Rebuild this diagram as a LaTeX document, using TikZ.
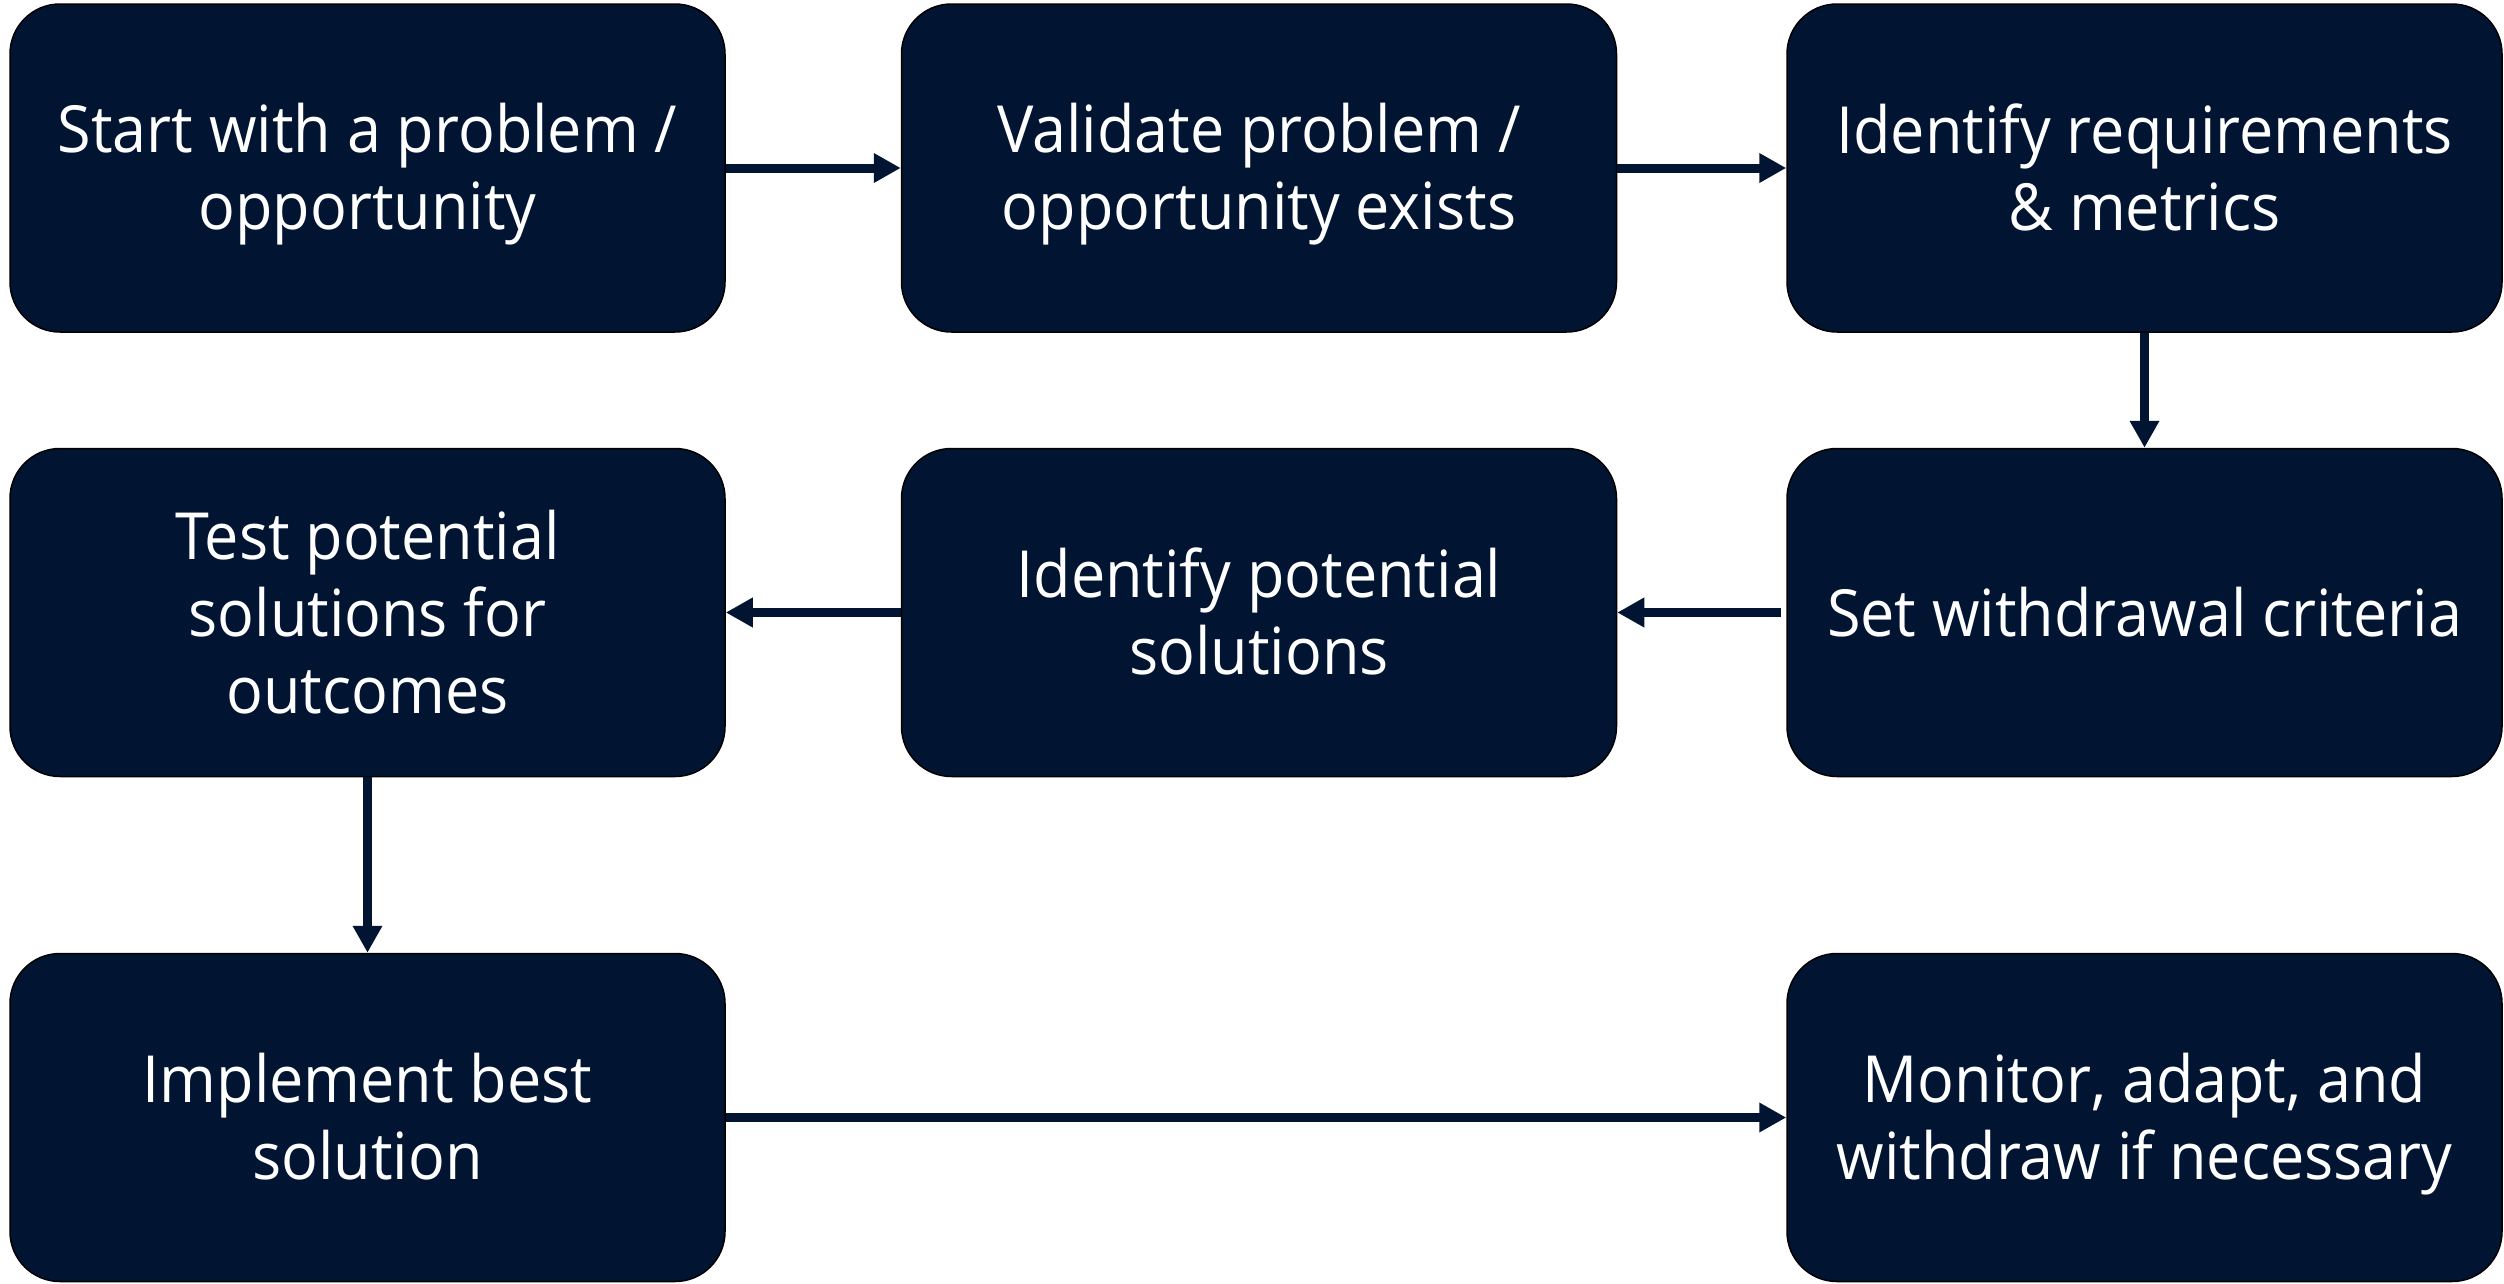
\documentclass[tikz,border=0pt]{standalone}
\usepackage{fontspec}
\setmainfont[FakeStretch=0.94]{Open Sans}
\usetikzlibrary{arrows.meta}
\definecolor{navy}{RGB}{1,21,51}
\newcommand\topstrutx{\rule{0pt}{62pt}}
\newcommand\botstrutx{\rule[-15pt]{0pt}{15pt}}
\tikzset{
  stepbox/.style={rectangle, rounded corners=50pt, minimum width=715pt, minimum height=328pt,
    fill=navy, draw=black, line width=1.5pt, text=white, align=center,
    font=\fontsize{65}{77}\selectfont, inner sep=0pt},
  flow/.style={draw=navy, line width=9pt, -{Triangle[length=27pt,width=28pt]}}
}
\begin{document}
\begin{tikzpicture}[x=1pt,y=-1pt]
\useasboundingbox (0,0) rectangle (2504,1283);
\node[stepbox] (a) at (367.5,168) {\topstrutx Start with a problem /\\opportunity\botstrutx};
\node[stepbox] (b) at (1259,168) {\topstrutx Validate problem /\\opportunity exists\botstrutx};
\node[stepbox] (c) at (2144.5,168) {\topstrutx Identify requirements\\\& metrics\botstrutx};
\node[stepbox] (f) at (2144.5,612.5) {\topstrutx Set withdrawal criteria\botstrutx};
\node[stepbox] (e) at (1259,612.5) {\topstrutx Identify potential\\solutions\botstrutx};
\node[stepbox] (d) at (367.5,612.5) {\topstrutx Test potential\\solutions for\\outcomes\botstrutx};
\node[stepbox] (g) at (367.5,1117.5) {\topstrutx Implement best\\solution\botstrutx};
\node[stepbox] (h) at (2144.5,1117.5) {\topstrutx Monitor, adapt, and\\withdraw if necessary\botstrutx};
\draw[flow] (a.east) -- (b.west);
\draw[flow] (b.east) -- (c.west);
\draw[flow] (c.south) -- (f.north);
\draw[flow] ([xshift=-5pt]f.west) -- (e.east);
\draw[flow] (e.west) -- (d.east);
\draw[flow] (d.south) -- (g.north);
\draw[flow] (g.east) -- (h.west);
\end{tikzpicture}
\end{document}
